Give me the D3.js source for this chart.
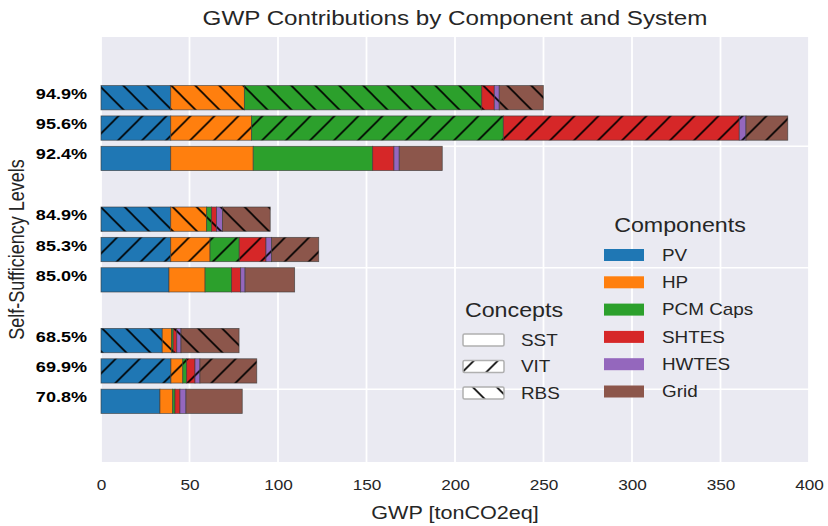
<!DOCTYPE html>
<html>
<head>
<meta charset="utf-8">
<script src="https://cdn.jsdelivr.net/npm/d3@7"></script>
<style>
  body { margin: 0; background: #fff; }
  svg { display: block; }
  text { font-family: "Liberation Sans", Arial, sans-serif; fill: #262626; }
</style>
</head>
<body>
<svg id="chart" width="828" height="526"></svg>
<script>
// ---- data ----
const components = ["PV", "HP", "PCM Caps", "SHTES", "HWTES", "Grid"];
const concepts = ["SST", "VIT", "RBS"];
const groupPositions = [2, 1, 0];
// one entry per bar: group index and concept index
const barGroup = [0, 0, 0, 1, 1, 1, 2, 2, 2];
const barConcept = [0, 1, 2, 0, 1, 2, 0, 1, 2];
const selfSufficiency = ["92.4%", "95.6%", "94.9%", "85.0%", "85.3%", "84.9%", "70.8%", "69.9%", "68.5%"];
// GWP per component, tonCO2eq
const pvValues     = [39.4, 39.4, 39.4, 38.4, 39.4, 39.4, 33.3, 39.5, 34.6];
const hpValues     = [46.6, 45.7, 41.6, 20.4, 22.2, 20.3, 7.2, 6.7, 5.3];
const pcmValues    = [67.5, 142.2, 134.1, 15.0, 16.5, 2.8, 1.3, 2.2, 0.9];
const shtesValues  = [12.0, 133.3, 7.1, 5.1, 15.1, 2.8, 2.8, 4.7, 2.0];
const hwtesValues  = [3.0, 3.8, 2.8, 2.5, 3.2, 3.3, 3.4, 2.8, 2.4];
const gridValues   = [24.3, 23.6, 24.9, 28.0, 26.6, 27.0, 31.8, 32.1, 32.8];
const xTicks = [0, 50, 100, 150, 200, 250, 300, 350, 400];

// ---- styling ----
const componentColors = ["#1f77b4", "#ff7f0e", "#2ca02c", "#d62728", "#9467bd", "#8c564b"];
const conceptOffset = [-0.25, 0, 0.25];
const conceptHatch = [null, "url(#hatch-fwd)", "url(#hatch-back)"];
const barHeight = 0.2;
const SX = 1.18; // horizontal text stretch

const svg = d3.select("#chart");
const plot = { left: 101, right: 809, top: 37, bottom: 462 };

const x = d3.scaleLinear().domain([0, 400]).range([plot.left, plot.right]);
const y = d3.scaleLinear().domain([-0.75, 2.75]).range([plot.bottom, plot.top]);

// hatch patterns
const defs = svg.append("defs");
defs.append("pattern").attr("id", "hatch-fwd").attr("patternUnits", "userSpaceOnUse")
  .attr("width", 24).attr("height", 24).attr("x", 18.5).attr("y", 0)
  .append("path").attr("d", "M-6,6 L6,-6 M0,24 L24,0 M18,30 L30,18")
  .attr("stroke", "#000").attr("stroke-width", 1.6).attr("fill", "none");
defs.append("pattern").attr("id", "hatch-back").attr("patternUnits", "userSpaceOnUse")
  .attr("width", 24).attr("height", 24).attr("x", 13.7).attr("y", 0)
  .append("path").attr("d", "M-6,18 L6,30 M0,0 L24,24 M18,-6 L30,6")
  .attr("stroke", "#000").attr("stroke-width", 1.6).attr("fill", "none");

// background + grid
svg.append("rect").attr("x", plot.left).attr("y", plot.top)
  .attr("width", plot.right - plot.left).attr("height", plot.bottom - plot.top)
  .attr("fill", "#EAEAF2");
svg.append("g").selectAll("line").data(xTicks).join("line")
  .attr("x1", d => x(d)).attr("x2", d => x(d))
  .attr("y1", plot.top).attr("y2", plot.bottom)
  .attr("stroke", "#fff").attr("stroke-width", 1.8);
svg.append("g").selectAll("line").data(groupPositions).join("line")
  .attr("x1", plot.left).attr("x2", plot.right)
  .attr("y1", d => y(d - 0.15)).attr("y2", d => y(d - 0.15))
  .attr("stroke", "#fff").attr("stroke-width", 1.5);

// stacked bars
const rows = barGroup.map((g, i) => ({
  "PV": pvValues[i], "HP": hpValues[i], "PCM Caps": pcmValues[i],
  "SHTES": shtesValues[i], "HWTES": hwtesValues[i], "Grid": gridValues[i]
}));
const stacked = d3.stack().keys(components)(rows);
const barCenter = i => y(groupPositions[barGroup[i]] + conceptOffset[barConcept[i]]);
const bh = y(0) - y(barHeight);

const barsG = svg.append("g");
stacked.forEach((layer, k) => {
  layer.forEach((seg, i) => {
    const x0 = x(seg[0]), x1 = x(seg[1]);
    const yTop = barCenter(i) - bh / 2;
    barsG.append("rect").attr("x", x0).attr("y", yTop)
      .attr("width", x1 - x0).attr("height", bh)
      .attr("fill", componentColors[k]);
    const h = conceptHatch[barConcept[i]];
    if (h) {
      barsG.append("rect").attr("x", x0).attr("y", yTop)
        .attr("width", x1 - x0).attr("height", bh).attr("fill", h);
    }
    barsG.append("rect").attr("x", x0).attr("y", yTop)
      .attr("width", x1 - x0).attr("height", bh)
      .attr("fill", "none").attr("stroke", "#3a3a3a").attr("stroke-opacity", 0.75)
      .attr("stroke-width", 0.8);
  });
});

// self-sufficiency labels
svg.append("g").selectAll("text").data(selfSufficiency).join("text")
  .attr("transform", (d, i) => `translate(87,${barCenter(i) + 1}) scale(${SX},1)`)
  .attr("text-anchor", "end")
  .attr("font-weight", "bold").attr("font-size", 15.3)
  .style("fill", "#000")
  .text(d => d);

// x axis
const xAxis = svg.append("g").attr("transform", `translate(0,${plot.bottom})`)
  .call(d3.axisBottom(x).tickValues(xTicks).tickSize(0).tickPadding(0).tickFormat(d3.format("d")));
xAxis.select(".domain").remove();
xAxis.selectAll("text")
  .attr("y", 28).attr("dy", 0)
  .attr("transform", `scale(${SX},1)`)
  .attr("font-size", 14.6)
  .attr("font-family", "Liberation Sans, Arial, sans-serif")
  .style("fill", "#262626");

// titles
svg.append("text").attr("transform", `translate(455,25) scale(${SX},1)`)
  .attr("text-anchor", "middle").attr("font-size", 20.5)
  .text("GWP Contributions by Component and System");
svg.append("text").attr("transform", `translate(455,519) scale(${SX},1)`)
  .attr("text-anchor", "middle").attr("font-size", 18.3)
  .text("GWP [tonCO2eq]");
svg.append("text").attr("transform", `translate(24,${(plot.top + plot.bottom) / 2}) scale(${SX},1) rotate(-90)`)
  .attr("text-anchor", "middle").attr("font-size", 18)
  .text("Self-Sufficiency Levels");

// concepts legend
const conceptLegend = svg.append("g");
conceptLegend.append("text").attr("transform", `translate(514,317) scale(${SX},1)`)
  .attr("text-anchor", "middle").attr("font-size", 19.7).text("Concepts");
concepts.forEach((c, i) => {
  const cy = 340 + i * 26.5;
  conceptLegend.append("rect").attr("x", 463).attr("y", cy - 6).attr("width", 41).attr("height", 12)
    .attr("rx", 1.5).attr("fill", "#fff");
  if (conceptHatch[i]) {
    conceptLegend.append("rect").attr("x", 463).attr("y", cy - 6).attr("width", 41).attr("height", 12)
      .attr("fill", conceptHatch[i]);
  }
  conceptLegend.append("rect").attr("x", 463).attr("y", cy - 6).attr("width", 41).attr("height", 12)
    .attr("rx", 1.5).attr("fill", "none").attr("stroke", "#b0b0b0").attr("stroke-width", 1.5);
  conceptLegend.append("text").attr("transform", `translate(521,${cy + 5.8}) scale(${SX},1)`)
    .attr("font-size", 16).text(c);
});

// components legend
const compLegend = svg.append("g");
compLegend.append("text").attr("transform", `translate(680,232) scale(${SX},1)`)
  .attr("text-anchor", "middle").attr("font-size", 19.7).text("Components");
components.forEach((c, i) => {
  const cy = 255 + i * 27.3;
  compLegend.append("rect").attr("x", 604).attr("y", cy - 6).attr("width", 40).attr("height", 12)
    .attr("fill", componentColors[i]);
  compLegend.append("text").attr("transform", `translate(662,${cy + 5.8}) scale(${SX},1)`)
    .attr("font-size", 16).text(c);
});
</script>
</body>
</html>
